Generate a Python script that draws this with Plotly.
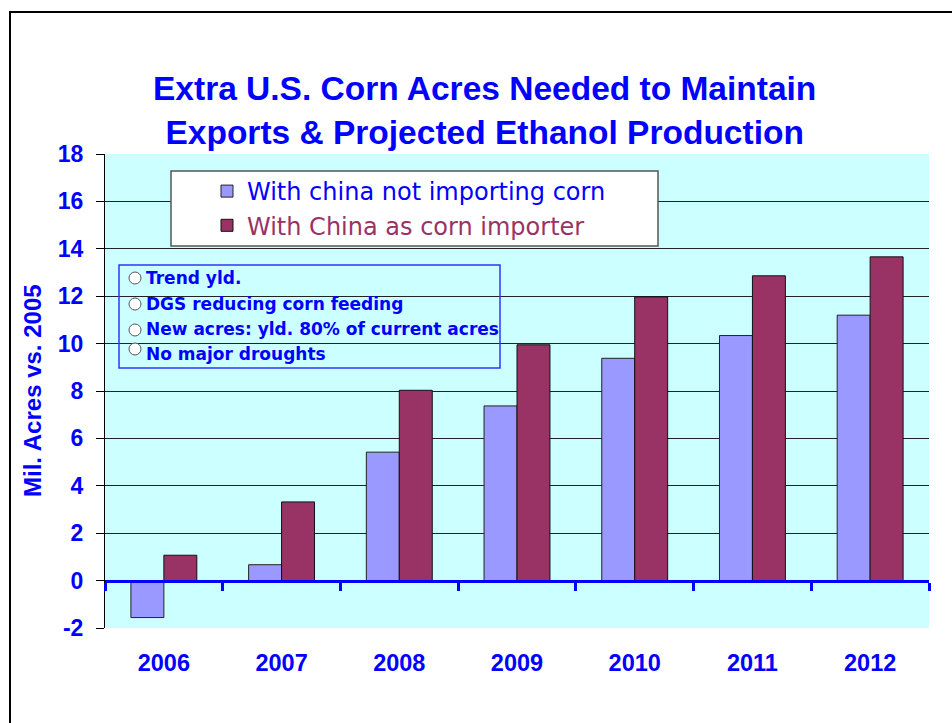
import plotly.graph_objects as go

years = ["2006", "2007", "2008", "2009", "2010", "2011", "2012"]
no_china = [-1.56, 0.67, 5.42, 7.37, 9.38, 10.34, 11.2]
china_importer = [1.07, 3.32, 8.03, 9.95, 11.97, 12.86, 13.66]
y_ticks = [-2, 0, 2, 4, 6, 8, 10, 12, 14, 16, 18]
y_tick_text = ["-2", "0", "2", "4", "6", "8", "10", "12", "14", "16", "18"]
series_names = ["With china not importing corn", "With China as corn importer"]
notes = ["Trend yld.", "DGS reducing corn feeding",
         "New acres: yld. 80% of current acres", "No major droughts"]
title_lines = ["Extra U.S. Corn Acres Needed to Maintain",
               "Exports & Projected Ethanol Production"]
y_title = "Mil. Acres vs. 2005"

BLUE = "#0000FF"
FONT = "Arial, Liberation Sans, sans-serif"
WIDE = "DejaVu Sans, Verdana, sans-serif"

W, H = 952, 723
L, R, T, B = 105, 23, 154, 95
PW, PH = W - L - R, H - T - B


def px_x(p):
    return (p - L) / PW


def px_y(p):
    return (H - B - p) / PH


fig = go.Figure()
fig.add_trace(go.Bar(x=years, y=no_china, name=series_names[0],
                     marker=dict(color="#9999FF", line=dict(color="#222", width=1)),
                     legendgroup="a"))
fig.add_trace(go.Bar(x=years, y=china_importer,
                     name="<span style='color:#993366'>" + series_names[1] + "</span>",
                     marker=dict(color="#993366", line=dict(color="#111", width=1)),
                     legendgroup="b"))

shapes = []
# outer frame
shapes.append(dict(type="rect", xref="paper", yref="paper",
                   x0=px_x(10), x1=px_x(960), y0=px_y(740), y1=px_y(12),
                   line=dict(color="black", width=2), fillcolor="rgba(0,0,0,0)", layer="below"))
# legend box
shapes.append(dict(type="rect", xref="paper", yref="paper",
                   x0=px_x(171), x1=px_x(658), y0=px_y(246), y1=px_y(171),
                   line=dict(color="#555", width=1.5), fillcolor="white", layer="above"))
# notes box
shapes.append(dict(type="rect", xref="paper", yref="paper",
                   x0=px_x(119), x1=px_x(500), y0=px_y(368), y1=px_y(265),
                   line=dict(color="#3333FF", width=1.5), fillcolor="rgba(0,0,0,0)", layer="above"))

annotations = []
annotations.append(dict(text="<br>".join(title_lines), xref="paper", yref="paper",
                        x=px_x(484), y=px_y(110), showarrow=False,
                        font=dict(family=FONT, size=33.5, color=BLUE, weight="bold"),
                        xanchor="center", yanchor="middle"))
annotations.append(dict(text=y_title, xref="paper", yref="paper",
                        x=px_x(32), y=0.5, textangle=-90, showarrow=False,
                        font=dict(family=FONT, size=24, color=BLUE, weight="bold"),
                        xanchor="center", yanchor="middle"))

note_y = [278, 304, 329, 354]
circ_y = [278, 304, 330, 349]
for t, yy, cy in zip(notes, note_y, circ_y):
    annotations.append(dict(text=t, xref="paper", yref="paper", x=px_x(144), y=px_y(yy),
                            showarrow=False, xanchor="left", yanchor="middle",
                            font=dict(family=WIDE, size=17, color=BLUE, weight="bold")))
    shapes.append(dict(type="circle", xref="paper", yref="paper",
                       x0=px_x(129), x1=px_x(141), y0=px_y(cy + 6), y1=px_y(cy - 6),
                       line=dict(color="#555", width=1), fillcolor="white", layer="above"))

fig.update_layout(
    width=W, height=H,
    margin=dict(l=L, r=R, t=T, b=B, autoexpand=False),
    paper_bgcolor="white", plot_bgcolor="#CCFFFF",
    barmode="group", bargap=0.44, bargroupgap=0,
    showlegend=True,
    legend=dict(x=px_x(207), y=px_y(169), xanchor="left", yanchor="top",
                bgcolor="rgba(0,0,0,0)", borderwidth=0,
                font=dict(family=WIDE, size=24, color=BLUE),
                traceorder="grouped", tracegroupgap=0),
    shapes=shapes, annotations=annotations,
    xaxis=dict(type="category", anchor="free", position=0.1,
               showline=True, linecolor=BLUE, linewidth=3,
               ticks="outside", tickson="boundaries", ticklen=8, tickwidth=3, tickcolor=BLUE,
               tickfont=dict(family=FONT, size=23.5, color=BLUE, weight="bold"),
               ticklabelstandoff=60, showgrid=False, zeroline=False),
    yaxis=dict(range=[-2, 18], tickvals=y_ticks, ticktext=y_tick_text,
               showline=True, linecolor="black", linewidth=1,
               ticks="outside", ticklen=8, tickcolor="black", tickwidth=1,
               tickfont=dict(family=FONT, size=23, color=BLUE, weight="bold"),
               ticklabelstandoff=8,
               showgrid=True, gridcolor="#222", gridwidth=1.3, zeroline=False),
)

fig.write_html("out.html")
